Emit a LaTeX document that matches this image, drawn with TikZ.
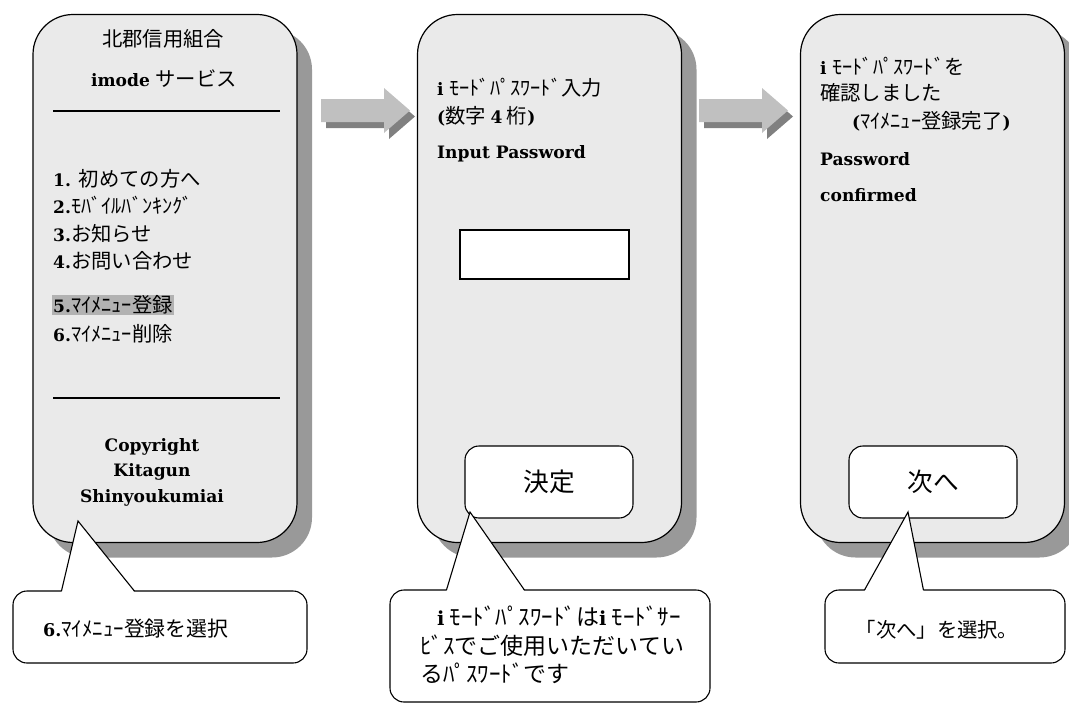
\documentclass[tikz,border=0pt]{standalone}
\usepackage{fontspec}
\usetikzlibrary{shadows,calc}
\newfontfamily\jpfont[Scale=1.07]{Noto Sans CJK JP}
\newfontfamily\latfont[Scale=0.9]{DejaVu Serif}
\newcommand\lb[1]{{\latfont\bfseries #1}}
\definecolor{phonefill}{HTML}{EAEAEA}
\definecolor{phoneshade}{HTML}{999999}
\definecolor{hlgray}{HTML}{B2B2B2}
\definecolor{arrowgray}{HTML}{C0C0C0}
\definecolor{arrowshade}{HTML}{808080}
\tikzset{
	phone/.style={draw, line width=1.2pt, fill=phonefill, rounded corners=40pt,
		minimum width=264pt, minimum height=528pt,
		drop shadow={shadow xshift=15pt, shadow yshift=-15pt, fill=phoneshade, opacity=1}},
	button/.style={draw, line width=1.1pt, fill=white, rounded corners=14pt,
		minimum width=168pt, minimum height=72pt, font=\jpfont\fontsize{24}{28}\selectfont},
	bubble/.style={draw, line width=1.1pt, fill=white, rounded corners=14pt},
	txt/.style={anchor=west, inner sep=0pt, font=\fontsize{19}{23}\selectfont},
}

\begin{document}
\begin{tikzpicture}[x=1pt,y=-1pt]
	\useasboundingbox (0,0) rectangle (1069,704);

	% three screens
	\node[phone] (p1) at (165,278.5) {};
	\node[phone] (p2) at (549.5,278.5) {};
	\node[phone] (p3) at (932.5,278.5) {};

	% block arrows between the screens
	\foreach \ax in {321,699} {
		\fill[arrowshade, shift={(5,6)}] (\ax,99) -- ++(63,0) -- ++(0,-11) -- ++(26,22.5)
			-- ++(-26,22.5) -- ++(0,-11) -- ++(-63,0) -- cycle;
		\fill[arrowgray] (\ax,99) -- ++(63,0) -- ++(0,-11) -- ++(26,22.5)
			-- ++(-26,22.5) -- ++(0,-11) -- ++(-63,0) -- cycle;
	}

	% screen 1: menu
	\node[txt, anchor=center] (bank) at (163,39) {\jpfont 北郡信用組合};
	\node[txt, anchor=center] (svc) at (164,79) {\lb{imode} \jpfont サービス};
	\draw[line width=1.2pt] (53,111) -- (280,111);
	\node[txt] (m1) at (53,179) {\lb{1.} \jpfont 初めての方へ};
	\node[txt] (m2) at (53,205) {\lb{2.}\jpfont ﾓﾊﾞｲﾙﾊﾞﾝｷﾝｸﾞ};
	\node[txt] (m3) at (53,234) {\lb{3.}\jpfont お知らせ};
	\node[txt] (m4) at (53,261) {\lb{4.}\jpfont お問い合わせ};
	\node[txt, fill=hlgray, inner sep=1pt] (m5) at (52,305) {\lb{5.}\jpfont ﾏｲﾒﾆｭｰ登録};
	\node[txt] (m6) at (53,334) {\lb{6.}\jpfont ﾏｲﾒﾆｭｰ削除};
	\draw[line width=1.2pt] (53,398) -- (280,398);
	\node[txt, anchor=center, align=center, font=\latfont\bfseries\fontsize{19}{25.5}\selectfont] (copy)
		at (152,472) {Copyright\\Kitagun\\Shinyoukumiai};

	% screen 2: password input
	\node[txt] (s2a) at (437,88) {\lb{i} \jpfont ﾓｰﾄﾞﾊﾟｽﾜｰﾄﾞ入力};
	\node[txt] (s2b) at (437,116) {\lb{(}\jpfont 数字 \lb{4} 桁\lb{)}};
	\node[txt] (s2c) at (437,154) {\lb{Input Password}};
	\node[draw, line width=1.1pt, fill=white, minimum width=169pt, minimum height=49pt] (pwbox)
		at (544.5,254.5) {};
	\node[button] (ok) at (549,482) {決定};

	% screen 3: confirmation
	\node[txt] (s3a) at (820,66) {\lb{i} \jpfont ﾓｰﾄﾞﾊﾟｽﾜｰﾄﾞを};
	\node[txt] (s3b) at (820,93) {\jpfont 確認しました};
	\node[txt] (s3c) at (852,121) {\lb{(}\jpfont ﾏｲﾒﾆｭｰ登録完了\lb{)}};
	\node[txt] (s3d) at (820,159) {\lb{Password}};
	\node[txt] (s3e) at (820,195) {\lb{confirmed}};
	\node[button] (next) at (933,482) {次へ};

	% callouts
	\node[bubble, minimum width=294pt, minimum height=72pt] (c1) at (160,627) {};
	\coordinate (t1) at (78,521);
	\fill[white] ($(c1.north west)+(49,1.8)$) -- (t1) -- ($(c1.north west)+(122,1.8)$) -- cycle;
	\draw[line width=1.1pt] ($(c1.north west)+(49,0.6)$) -- (t1) -- ($(c1.north west)+(122,0.6)$);
	\node[txt, font=\fontsize{19.5}{23}\selectfont] (c1txt) at (43,629) {\lb{6.}\jpfont ﾏｲﾒﾆｭｰ登録を選択};

	\node[bubble, minimum width=320pt, minimum height=112pt] (c2) at (550,646) {};
	\coordinate (t2) at (470,512);
	\fill[white] ($(c2.north west)+(57,1.8)$) -- (t2) -- ($(c2.north west)+(135,1.8)$) -- cycle;
	\draw[line width=1.1pt] ($(c2.north west)+(57,0.6)$) -- (t2) -- ($(c2.north west)+(135,0.6)$);
	\node[txt, anchor=north west, align=left, font=\jpfont\fontsize{21.5}{28.5}\selectfont] (c2txt)
		at (420,606) {\hspace*{17pt}\lb{i} ﾓｰﾄﾞﾊﾟｽﾜｰﾄﾞは\lb{i} ﾓｰﾄﾞｻｰ\\ﾋﾞｽでご使用いただいてい\\るﾊﾟｽﾜｰﾄﾞです};

	\node[bubble, minimum width=240pt, minimum height=73pt] (c3) at (945,626.5) {};
	\coordinate (t3) at (908,512);
	\fill[white] ($(c3.north west)+(40,1.8)$) -- (t3) -- ($(c3.north west)+(99,1.8)$) -- cycle;
	\draw[line width=1.1pt] ($(c3.north west)+(40,0.6)$) -- (t3) -- ($(c3.north west)+(99,0.6)$);
	\node[txt, anchor=center] (c3txt) at (937,630) {\jpfont 「次へ」を選択。};
\end{tikzpicture}
\end{document}
